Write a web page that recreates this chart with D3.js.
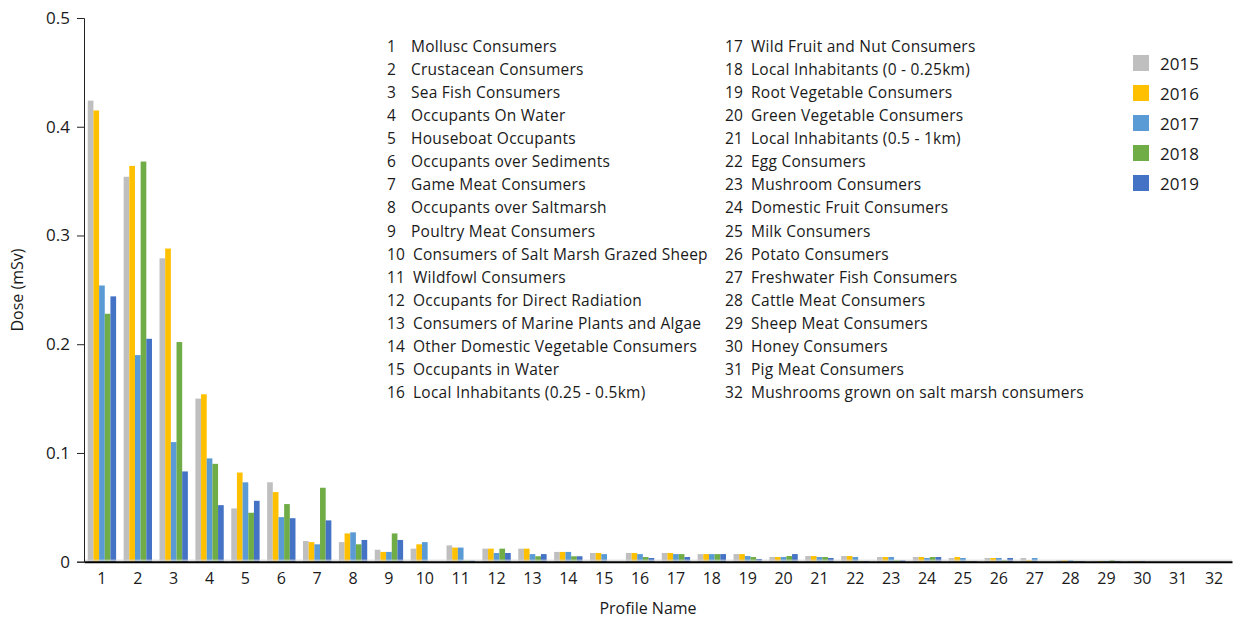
<!DOCTYPE html>
<html>
<head>
<meta charset="utf-8">
<script src="https://cdn.jsdelivr.net/npm/d3@7"></script>
<style>
  body { margin: 0; background: #fff; }
  svg { font-family: "Open Sans", "Noto Sans", sans-serif; }
</style>
</head>
<body>
<svg width="1236" height="621"></svg>
<script>
const svg = d3.select('svg');

// profile numbers on the x axis and their names in the key
const profiles = d3.range(1, 33).map(String);
const profileNames = [
  'Mollusc Consumers', 'Crustacean Consumers', 'Sea Fish Consumers', 'Occupants On Water',
  'Houseboat Occupants', 'Occupants over Sediments', 'Game Meat Consumers', 'Occupants over Saltmarsh',
  'Poultry Meat Consumers', 'Consumers of Salt Marsh Grazed Sheep', 'Wildfowl Consumers',
  'Occupants for Direct Radiation', 'Consumers of Marine Plants and Algae',
  'Other Domestic Vegetable Consumers', 'Occupants in Water', 'Local Inhabitants (0.25 - 0.5km)',
  'Wild Fruit and Nut Consumers', 'Local Inhabitants (0 - 0.25km)', 'Root Vegetable Consumers',
  'Green Vegetable Consumers', 'Local Inhabitants (0.5 - 1km)', 'Egg Consumers',
  'Mushroom Consumers', 'Domestic Fruit Consumers', 'Milk Consumers', 'Potato Consumers',
  'Freshwater Fish Consumers', 'Cattle Meat Consumers', 'Sheep Meat Consumers',
  'Honey Consumers', 'Pig Meat Consumers', 'Mushrooms grown on salt marsh consumers'
];

const years = ['2015', '2016', '2017', '2018', '2019'];
const colors = ['#bfbfbf', '#ffc000', '#5b9bd5', '#70ad47', '#4472c4'];

// dose (mSv) per profile, one array per year
const dose2015 = [0.424, 0.354, 0.279, 0.150, 0.049, 0.073, 0.019, 0.018, 0.011, 0.012, 0.015, 0.012,
  0.012, 0.009, 0.008, 0.008, 0.008, 0.007, 0.007, 0.0043, 0.0052, 0.0052, 0.0043, 0.0043,
  0.0034, 0.0034, 0.0034, 0.0015, 0.0003, 0.0006, 0, 0];
const dose2016 = [0.415, 0.364, 0.288, 0.154, 0.082, 0.064, 0.018, 0.026, 0.009, 0.016, 0.013, 0.012,
  0.012, 0.009, 0.008, 0.008, 0.008, 0.007, 0.007, 0.0043, 0.0052, 0.0052, 0.0043, 0.0043,
  0.0043, 0.0034, 0.0015, 0.0015, 0.0006, 0.0006, 0, 0];
const dose2017 = [0.254, 0.190, 0.110, 0.095, 0.073, 0.041, 0.016, 0.027, 0.009, 0.018, 0.013, 0.008,
  0.007, 0.009, 0.007, 0.007, 0.007, 0.007, 0.0052, 0.0043, 0.0043, 0.0043, 0.0043, 0.0034,
  0.0034, 0.0034, 0.0034, 0.0015, 0.0006, 0.0006, 0, 0];
const dose2018 = [0.228, 0.368, 0.202, 0.090, 0.045, 0.053, 0.068, 0.016, 0.026, 0, 0.001, 0.012,
  0.005, 0.005, 0, 0.0043, 0.007, 0.007, 0.0043, 0.0052, 0.0043, 0.0006, 0.0015, 0.0043,
  0.0006, 0.0015, 0, 0.0006, 0.0015, 0, 0, 0];
const dose2019 = [0.244, 0.205, 0.083, 0.052, 0.056, 0.040, 0.038, 0.020, 0.020, 0, 0.001, 0.008,
  0.007, 0.005, 0, 0.0034, 0.0043, 0.007, 0.0025, 0.007, 0.0034, 0.0006, 0.0015, 0.0043,
  0.0006, 0.0034, 0, 0.0006, 0.0006, 0, 0, 0];
const series = [dose2015, dose2016, dose2017, dose2018, dose2019];

const yTicks = [0, 0.1, 0.2, 0.3, 0.4, 0.5];

const margin = { left: 84, right: 4, top: 18, bottom: 59 };
const width = 1236, height = 621;

const x0 = d3.scaleBand()
  .domain(profiles)
  .range([margin.left, width - margin.right])
  .paddingInner(0.21)
  .paddingOuter(0.105);

const x1 = d3.scaleBand()
  .domain(years)
  .range([0, x0.bandwidth()]);

const y = d3.scaleLinear()
  .domain([0, 0.5])
  .range([height - margin.bottom - 0.3, margin.top]);

// bars
const groups = svg.append('g').selectAll('g')
  .data(profiles)
  .join('g')
    .attr('transform', d => `translate(${x0(d)},0)`);

groups.selectAll('rect')
  .data((p, i) => years.map((yr, k) => ({ yr, k, v: series[k][i] })))
  .join('rect')
    .attr('x', d => x1(d.yr))
    .attr('width', x1.bandwidth())
    .attr('y', d => y(d.v))
    .attr('height', d => y(0) - y(d.v))
    .attr('fill', d => colors[d.k]);

// faint baseline just above the axis
svg.append('line')
  .attr('x1', margin.left).attr('x2', width - margin.right)
  .attr('y1', y(0) - 1.5).attr('y2', y(0) - 1.5)
  .attr('stroke', '#d4d4d4').attr('stroke-width', 1);

// y axis
const yAxis = svg.append('g')
  .attr('transform', `translate(${margin.left},0)`)
  .call(d3.axisLeft(y).tickValues(yTicks).tickSize(7).tickPadding(7)
    .tickFormat(d => d === 0 ? '0' : d3.format('.1f')(d)));
yAxis.select('.domain').attr('stroke', '#222');
yAxis.selectAll('.tick line').attr('stroke', '#222');
yAxis.selectAll('text')
  .attr('font-size', 17).attr('fill', '#1a1a1a')
  .style('font-family', '"Open Sans", sans-serif');

// x axis
const xAxis = svg.append('g')
  .attr('transform', `translate(0,${y(0)})`)
  .call(d3.axisBottom(x0).tickSize(0).tickPadding(11).tickSizeOuter(0));
xAxis.select('.domain').attr('stroke', '#000').attr('stroke-width', 2);
xAxis.selectAll('text')
  .attr('font-size', 16).attr('fill', '#1a1a1a')
  .style('font-family', '"Open Sans", sans-serif');

// axis titles
svg.append('text')
  .attr('x', 648).attr('y', 614)
  .attr('text-anchor', 'middle')
  .attr('font-size', 16).attr('fill', '#1a1a1a')
  .text('Profile Name');

svg.append('text')
  .attr('transform', 'translate(23,290) rotate(-90)')
  .attr('text-anchor', 'middle')
  .attr('font-size', 16).attr('fill', '#1a1a1a')
  .text('Dose (mSv)');

// profile key, two columns of 16
const key = svg.append('g').attr('font-size', 15.5).attr('fill', '#1a1a1a')
  .attr('letter-spacing', 0.25);
const keyRows = key.selectAll('g')
  .data(profileNames)
  .join('g')
    .attr('transform', (d, i) => {
      const col = Math.floor(i / 16), row = i % 16;
      return `translate(${col === 0 ? 387 : 725},${51.5 + row * 23.13})`;
    });
keyRows.append('text').text((d, i) => i + 1);
keyRows.append('text').attr('x', (d, i) => i < 9 ? 24 : 26).text(d => d);

// year legend
const legend = svg.append('g')
  .selectAll('g')
  .data(years)
  .join('g')
    .attr('transform', (d, i) => `translate(1133,${55 + i * 30})`);
legend.append('rect')
  .attr('width', 16).attr('height', 16)
  .attr('fill', (d, i) => colors[i]);
legend.append('text')
  .attr('x', 27).attr('y', 14.5)
  .attr('font-size', 17).attr('fill', '#1a1a1a')
  .text(d => d);
</script>
</body>
</html>
